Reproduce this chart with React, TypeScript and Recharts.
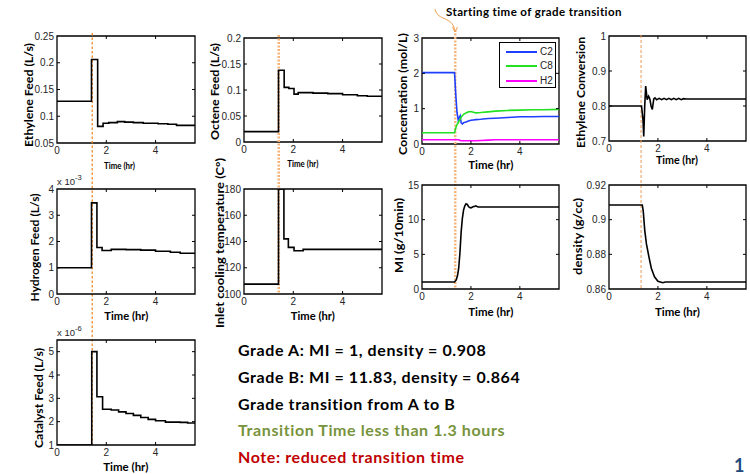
import React from 'react';
import { LineChart, Line, XAxis, YAxis, ReferenceLine, ReferenceArea, Legend, Label } from 'recharts';

// ---------- shared axis values ----------
const timeDomain: [number, number] = [0, 5.6];
const timeTicks = [0, 2, 4];

// ---------- Ethylene feed (L/s) ----------
const ethyleneT = [0, 1.4, 1.65, 1.87, 2.1, 2.45, 2.75, 3.1, 3.5, 4.1, 4.5, 4.85, 5.6];
const ethyleneV = [0.128, 0.206, 0.081, 0.087, 0.088, 0.09, 0.089, 0.088, 0.087, 0.086, 0.085, 0.083, 0.083];

// ---------- Octene feed (L/s) ----------
const octeneT = [0, 1.4, 1.63, 1.82, 2.03, 2.2, 2.8, 3.4, 4.0, 4.6, 5.0, 5.6];
const octeneV = [0.02, 0.138, 0.105, 0.103, 0.092, 0.095, 0.094, 0.093, 0.091, 0.089, 0.088, 0.088];

// ---------- Concentration (mol/L) ----------
const concT = [0, 1.33, 1.38, 1.43, 1.48, 1.52, 1.56, 1.6, 1.65, 1.7, 1.8, 1.9, 2.0, 2.1, 2.2, 2.4, 2.7, 3.0, 3.5, 4.0, 4.5, 5.0, 5.6];
const c2V = [2.02, 2.02, 1.4, 0.9, 0.68, 0.75, 0.8, 0.6, 0.57, 0.6, 0.62, 0.65, 0.67, 0.68, 0.69, 0.7, 0.72, 0.73, 0.75, 0.77, 0.77, 0.78, 0.78];
const c8V = [0.32, 0.32, 0.45, 0.55, 0.6, 0.66, 0.7, 0.76, 0.8, 0.84, 0.88, 0.91, 0.92, 0.9, 0.88, 0.89, 0.91, 0.93, 0.95, 0.96, 0.97, 0.97, 0.98];
const h2V = [0.12, 0.12, 0.12, 0.12, 0.12, 0.11, 0.1, 0.09, 0.09, 0.09, 0.09, 0.09, 0.09, 0.09, 0.09, 0.1, 0.11, 0.12, 0.12, 0.12, 0.12, 0.12, 0.12];
const concNames = ['C2', 'C8', 'H2'];

// ---------- Ethylene conversion ----------
const convT = [0, 1.33, 1.39, 1.42, 1.46, 1.5, 1.56, 1.62, 1.67, 1.72, 1.77, 1.83, 1.88, 1.95, 2.05, 2.15, 2.25, 2.35, 2.45, 2.55, 2.65, 2.75, 2.85, 2.95, 3.05, 3.15, 5.6];
const convV = [0.8, 0.8, 0.76, 0.713, 0.8, 0.857, 0.818, 0.828, 0.82, 0.8, 0.79, 0.82, 0.823, 0.818, 0.822, 0.818, 0.822, 0.818, 0.822, 0.818, 0.822, 0.818, 0.822, 0.818, 0.821, 0.82, 0.82];

// ---------- Hydrogen feed (x 10^-3 L/s) ----------
const hydrogenT = [0, 1.4, 1.62, 1.83, 2.2, 2.8, 3.4, 4.0, 4.6, 5.0, 5.6];
const hydrogenV = [1.0, 3.47, 1.77, 1.66, 1.7, 1.69, 1.67, 1.63, 1.59, 1.55, 1.55];

// ---------- Inlet cooling temperature (C) ----------
const inletT = [0, 1.4, 1.62, 1.8, 2.03, 2.4, 5.6];
const inletV = [107.5, 180, 142, 135.5, 133, 134, 134];

// ---------- MI (g/10min) ----------
const miT = [0, 1.33, 1.4, 1.45, 1.5, 1.55, 1.6, 1.65, 1.7, 1.75, 1.8, 1.85, 1.9, 1.95, 2.0, 2.05, 2.1, 2.15, 2.2, 2.25, 2.3, 5.6];
const miV = [1, 1, 1.3, 1.9, 3, 5.2, 8.2, 10.2, 11.4, 12.0, 12.3, 12.2, 11.9, 11.75, 11.7, 11.8, 11.9, 11.9, 12.0, 11.9, 11.83, 11.83];

// ---------- density (g/cc) ----------
const densT = [0, 1.36, 1.4, 1.46, 1.53, 1.64, 1.73, 1.86, 2.0, 2.2, 2.3, 5.6];
const densV = [0.9085, 0.9085, 0.905, 0.894, 0.886, 0.878, 0.872, 0.867, 0.8645, 0.8636, 0.864, 0.864];

// ---------- Catalyst feed (x 10^-6 L/s) ----------
const catalystT = [0, 1.41, 1.62, 1.85, 2.2, 2.5, 2.8, 3.1, 3.4, 3.7, 4.0, 4.4, 5.0, 5.3, 5.6];
const catalystV = [1.0, 5.0, 3.07, 2.53, 2.5, 2.42, 2.35, 2.27, 2.18, 2.1, 2.04, 1.98, 1.97, 1.94, 1.94];

// ---------- transition start markers (hr) ----------
const markerCol1 = 1.43;
const markerCol2 = 1.41;
const markerCol3 = 1.36;
const markerCol4 = 1.31;

// ---------- text ----------
const annotationText = 'Starting time of grade transition';
const noteLines = [
  'Grade A: MI = 1, density = 0.908',
  'Grade B: MI = 11.83, density = 0.864',
  'Grade transition from A to B',
  'Transition Time less than 1.3 hours',
  'Note: reduced transition time',
];
const noteColors = ['#000', '#000', '#000', '#77933C', '#C00000'];

const TICK_FONT = '"Liberation Sans", Arial, sans-serif';
const LABEL_FONT = 'Lato, "Open Sans", sans-serif';

const YW = 60;
const MT = 18;
const XH = 34;
const MR = 6;

interface SeriesDef { name: string; t: number[]; v: number[]; color: string; step?: boolean }
interface MarkerDef { x: number; color: string; width: number; dash: string; up: number; down: number }
interface PanelDef {
  left: number; top: number; w: number; h: number;
  yDomain: [number, number]; yTicks: number[];
  yLabel: string; yLabelX: number; yLabelY: number; yLabelLen: number;
  timeX: number; timeY: number; timeLen: number; timeSize: number;
  mult?: string;
  series: SeriesDef[];
  marker?: MarkerDef;
  legend?: { x: number; y: number; w: number; h: number };
}

const fmt = (v: number) => String(+v.toFixed(4));

function Panel({ p }: { p: PanelDef }) {
  const cw = YW + p.w + MR;
  const ch = MT + p.h + XH + 20;
  const offX = p.left - YW;
  const offY = p.top - MT;
  const pb = MT + p.h;
  const [y0, y1] = p.yDomain;

  const xTick = (props: any) => {
    const { x, payload } = props;
    return (
      <g>
        <text x={x} y={pb + 7} textAnchor="middle" dominantBaseline="central" fontSize={10} fontFamily={TICK_FONT} fill="#262626">
          {fmt(payload.value)}
        </text>
        {payload.value > timeDomain[0] && (
          <g stroke="#000" strokeWidth={1}>
            <line x1={x} x2={x} y1={pb} y2={pb - 3} />
            <line x1={x} x2={x} y1={MT} y2={MT + 3} />
          </g>
        )}
      </g>
    );
  };
  const yTick = (props: any) => {
    const { y, payload } = props;
    const inner = payload.value > y0 && payload.value < y1;
    return (
      <g>
        <text x={YW - 3} y={y} textAnchor="end" dominantBaseline="central" fontSize={10} fontFamily={TICK_FONT} fill="#262626">
          {fmt(payload.value)}
        </text>
        {inner && (
          <g stroke="#000" strokeWidth={1}>
            <line x1={YW} x2={YW + 3} y1={y} y2={y} />
            <line x1={YW + p.w} x2={YW + p.w - 3} y1={y} y2={y} />
          </g>
        )}
      </g>
    );
  };

  const yLabelContent = () => {
    const x = p.yLabelX - offX;
    const y = p.yLabelY - offY;
    return (
      <text x={x} y={y} transform={`rotate(-90 ${x} ${y})`} textAnchor="middle" dominantBaseline="central"
        fontFamily={LABEL_FONT} fontWeight={700} fontSize={12} fill="#000"
        textLength={p.yLabelLen} lengthAdjust="spacingAndGlyphs">
        {p.yLabel}
      </text>
    );
  };
  const multContent = () => {
    if (!p.mult) return null;
    return (
      <text x={YW} y={MT - 8} fontFamily={TICK_FONT} fontSize={9.5} fill="#262626" dominantBaseline="central">
        x 10<tspan dy={-4} fontSize={7.5}>{p.mult}</tspan>
      </text>
    );
  };
  const timeContent = () => {
    const x = p.timeX - offX;
    const y = p.timeY - offY;
    return (
      <text x={x} y={y} textAnchor="middle" dominantBaseline="central" fontFamily={LABEL_FONT} fontWeight={700}
        fontSize={p.timeSize} fill="#000" textLength={p.timeLen} lengthAdjust="spacingAndGlyphs">
        Time (hr)
      </text>
    );
  };

  const legendContent = () => (
    <div style={{ border: '1px solid #000', background: '#fff', width: p.legend!.w, height: p.legend!.h, boxSizing: 'border-box', paddingTop: 2 }}>
      {p.series.map((s) => (
        <div key={s.name} style={{ display: 'flex', alignItems: 'center', height: 14.3 }}>
          <span style={{ display: 'inline-block', width: 31, height: 0, borderTop: `2px solid ${s.color}`, marginLeft: 6 }} />
          <span style={{ marginLeft: 3, fontSize: 10, fontFamily: TICK_FONT, color: '#262626', lineHeight: '10px' }}>{s.name}</span>
        </div>
      ))}
    </div>
  );

  const m = p.marker;
  return (
    <div style={{ position: 'absolute', left: offX, top: offY }}>
      <LineChart width={cw} height={ch} margin={{ top: MT, right: MR, bottom: 20, left: 0 }}>
        <XAxis dataKey="t" type="number" domain={timeDomain} ticks={timeTicks} interval={0} allowDataOverflow
          axisLine={false} tickLine={false} tickSize={0} tickMargin={3} height={XH} tick={xTick}>
          <Label content={timeContent} />
        </XAxis>
        <YAxis type="number" domain={p.yDomain} ticks={p.yTicks} interval={0} allowDataOverflow
          axisLine={false} tickLine={false} tickSize={0} tickMargin={3} width={YW} tick={yTick}>
          <Label content={yLabelContent} />
          <Label content={multContent} />
        </YAxis>
        {m && (
          <ReferenceLine x={m.x} ifOverflow="visible"
            shape={(sp: any) => {
              const top = Math.min(sp.y1, sp.y2) - m.up;
              const bot = Math.max(sp.y1, sp.y2) + m.down;
              return <line x1={sp.x1} x2={sp.x2} y1={top} y2={bot} stroke={m.color} strokeWidth={m.width} strokeDasharray={m.dash} />;
            }} />
        )}
        {p.series.map((s) => (
          <Line key={s.name} name={s.name} data={s.t.map((t, i) => ({ t, v: s.v[i] }))} dataKey="v"
            type={s.step ? 'stepAfter' : 'linear'} stroke={s.color} strokeWidth={1.6} dot={false}
            activeDot={false} isAnimationActive={false} />
        ))}
        <ReferenceArea x1={timeDomain[0]} x2={timeDomain[1]} y1={y0} y2={y1} fill="none" fillOpacity={0}
          stroke="#000" strokeWidth={1.3} ifOverflow="visible" />
        {p.legend && (
          <Legend layout="horizontal" verticalAlign="middle" align="center" content={legendContent}
            wrapperStyle={{ left: p.legend.x - offX, top: p.legend.y - offY, width: p.legend.w, height: p.legend.h }} />
        )}
      </LineChart>
    </div>
  );
}

const BLACK = '#000';

const panels: PanelDef[] = [
  {
    left: 57, top: 36, w: 138, h: 107, yDomain: [0.05, 0.25], yTicks: [0.05, 0.1, 0.15, 0.2, 0.25],
    yLabel: 'Ethylene Feed (L/s)', yLabelX: 28, yLabelY: 95, yLabelLen: 104,
    timeX: 119.5, timeY: 165, timeLen: 31, timeSize: 9,
    series: [{ name: 'ethylene', t: ethyleneT, v: ethyleneV, color: BLACK, step: true }],
    marker: { x: markerCol1, color: '#F08A2A', width: 1.3, dash: '2.5 2', up: 3, down: 303 },
  },
  {
    left: 244, top: 38, w: 138, h: 104, yDomain: [0, 0.2], yTicks: [0, 0.05, 0.1, 0.15, 0.2],
    yLabel: 'Octene Feed (L/s)', yLabelX: 214.7, yLabelY: 91.5, yLabelLen: 97,
    timeX: 302.8, timeY: 163, timeLen: 31, timeSize: 9,
    series: [{ name: 'octene', t: octeneT, v: octeneV, color: BLACK, step: true }],
    marker: { x: markerCol2, color: '#F6B478', width: 2.6, dash: '2 1.5', up: 3, down: 152 },
  },
  {
    left: 422, top: 38, w: 137, h: 106, yDomain: [0, 3], yTicks: [0, 1, 2, 3],
    yLabel: 'Concentration (mol/L)', yLabelX: 402, yLabelY: 94, yLabelLen: 122,
    timeX: 490.8, timeY: 164, timeLen: 45, timeSize: 11,
    series: [
      { name: concNames[0], t: concT, v: c2V, color: '#1F3FFF' },
      { name: concNames[1], t: concT, v: c8V, color: '#22E022' },
      { name: concNames[2], t: concT, v: h2V, color: '#FF00FF' },
    ],
    marker: { x: markerCol3, color: '#F6B478', width: 2.4, dash: '2 1.5', up: 8, down: 145 },
    legend: { x: 499, y: 42, w: 57, h: 46 },
  },
  {
    left: 609, top: 36, w: 137, h: 105, yDomain: [0.7, 1], yTicks: [0.7, 0.8, 0.9, 1],
    yLabel: 'Ethylene Conversion', yLabelX: 580, yLabelY: 92.5, yLabelLen: 111,
    timeX: 677, timeY: 159, timeLen: 42, timeSize: 11,
    series: [{ name: 'conversion', t: convT, v: convV, color: BLACK }],
    marker: { x: markerCol4, color: '#EE9A50', width: 1, dash: '3 2', up: 1, down: 148 },
  },
  {
    left: 57, top: 189, w: 138, h: 105, yDomain: [0, 4], yTicks: [0, 1, 2, 3, 4],
    yLabel: 'Hydrogen Feed (L/s)', yLabelX: 34.7, yLabelY: 247.5, yLabelLen: 108,
    timeX: 126.3, timeY: 315.7, timeLen: 44, timeSize: 11, mult: '-3',
    series: [{ name: 'hydrogen', t: hydrogenT, v: hydrogenV, color: BLACK, step: true }],
  },
  {
    left: 244, top: 189, w: 138, h: 105, yDomain: [100, 180], yTicks: [100, 120, 140, 160, 180],
    yLabel: 'Inlet cooling temperature (C°)', yLabelX: 219, yLabelY: 243, yLabelLen: 170,
    timeX: 312.8, timeY: 315.7, timeLen: 44, timeSize: 11,
    series: [{ name: 'inlet', t: inletT, v: inletV, color: BLACK, step: true }],
  },
  {
    left: 422, top: 185, w: 137, h: 104, yDomain: [0, 15], yTicks: [0, 5, 10, 15],
    yLabel: 'MI (g/10min)', yLabelX: 398.7, yLabelY: 235.5, yLabelLen: 75,
    timeX: 490.8, timeY: 311.7, timeLen: 45, timeSize: 11,
    series: [{ name: 'mi', t: miT, v: miV, color: BLACK }],
  },
  {
    left: 609, top: 185, w: 137, h: 104, yDomain: [0.86, 0.92], yTicks: [0.86, 0.88, 0.9, 0.92],
    yLabel: 'density (g/cc)', yLabelX: 577, yLabelY: 236.5, yLabelLen: 77,
    timeX: 677.5, timeY: 311.7, timeLen: 45, timeSize: 11,
    series: [{ name: 'density', t: densT, v: densV, color: BLACK }],
  },
  {
    left: 57, top: 340, w: 138, h: 105, yDomain: [1, 5.5], yTicks: [1, 2, 3, 4, 5],
    yLabel: 'Catalyst Feed (L/s)', yLabelX: 38.7, yLabelY: 398, yLabelLen: 100,
    timeX: 125.8, timeY: 466.7, timeLen: 45, timeSize: 11, mult: '-6',
    series: [{ name: 'catalyst', t: catalystT, v: catalystV, color: BLACK, step: true }],
  },
];

export default function App() {
  return (
    <div style={{ position: 'absolute', left: 0, top: 0, width: 750, height: 474, background: '#fff', overflow: 'hidden' }}>
      <style>{'.recharts-surface{overflow:visible}'}</style>
      {panels.map((p, i) => (
        <Panel key={i} p={p} />
      ))}
      {/* annotation */}
      <div style={{ position: 'absolute', left: 446, top: 5, fontFamily: LABEL_FONT, fontWeight: 700, fontSize: 11.5, letterSpacing: 0.4, whiteSpace: 'nowrap', color: '#000', lineHeight: '14px' }}>
        {annotationText}
      </div>
      <svg style={{ position: 'absolute', left: 0, top: 0 }} width={750} height={60}>
        <path d="M435 9 C 438 22, 452 15, 455 31" fill="none" stroke="#F0A050" strokeWidth={1} />
        <path d="M452.5 27 L455 32 L457.5 27" fill="none" stroke="#F0A050" strokeWidth={1} />
      </svg>
      {noteLines.map((t, i) => (
        <div key={i} style={{ position: 'absolute', left: 238, top: 340 + i * 26.8, height: 20, lineHeight: '20px', fontFamily: LABEL_FONT, fontWeight: 700, fontSize: 16, letterSpacing: 0.6, color: noteColors[i], whiteSpace: 'nowrap' }}>
          {t}
        </div>
      ))}
      <div style={{ position: 'absolute', left: 734, top: 454, fontFamily: LABEL_FONT, fontWeight: 700, fontSize: 18, color: '#1F497D', lineHeight: '22px' }}>1</div>
    </div>
  );
}
